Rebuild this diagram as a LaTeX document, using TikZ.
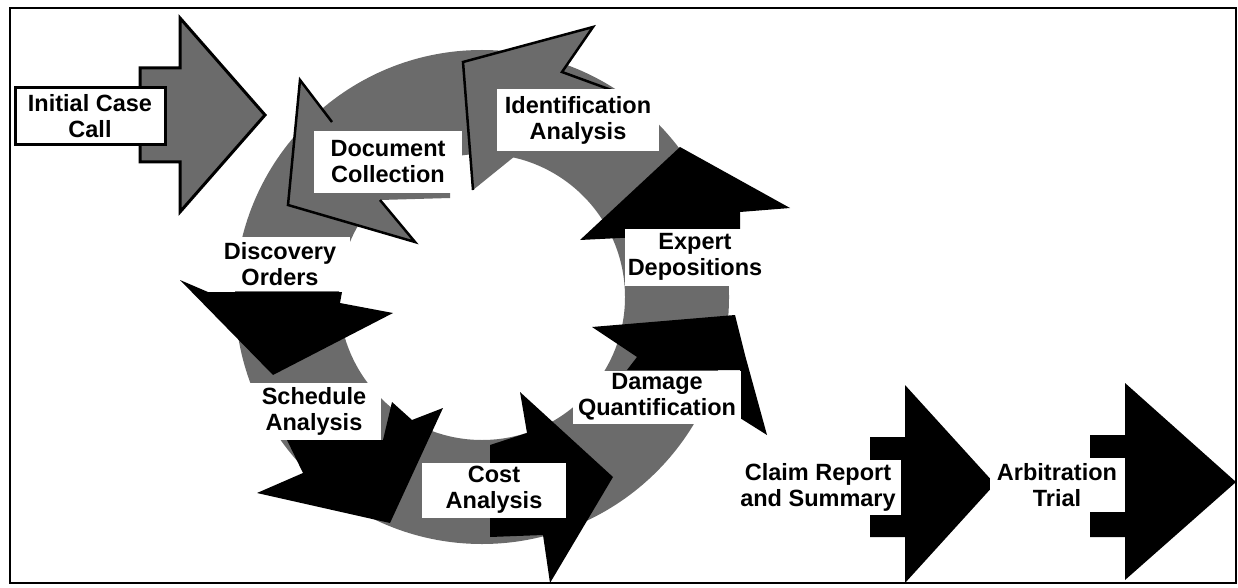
\documentclass[tikz,border=0pt]{standalone}
\usepackage{fontspec}
\setmainfont{Liberation Sans}
\definecolor{stipple}{gray}{0.42}
\tikzset{
  lbl/.style={fill=white, font=\bfseries\fontsize{23.5}{26}\selectfont, align=center, inner sep=0pt},
  greyhead/.style={fill=stipple},
  rim/.style={draw=black, line width=2.5pt, line join=miter},
}
\begin{document}
\begin{tikzpicture}[x=1pt,y=-1pt]
\useasboundingbox (0,0) rectangle (1238,588);
\draw[line width=2pt] (10,8) rectangle (1236,583);
% the ring
\fill[stipple, even odd rule] (482,297) circle[radius=247pt] (482,297) circle[radius=143pt];
% start arrow
\draw[greyhead, rim, line width=3pt] (140,68) -- (180,68) -- (180,18) -- (265,115) -- (180,212) -- (180,162) -- (140,162) -- cycle;
% grey heads on the ring
\fill[greyhead] (300,80) -- (332,122) -- (450,122) -- (450,198) -- (380,200) -- (415,242) -- (288,205) -- cycle;
\draw[rim] (332,122) -- (300,80) -- (288,205) -- (415,242) -- (380,200);
\fill[greyhead] (463,62) -- (593,27) -- (562,72) -- (625,95) -- (625,150) -- (540,158) -- (520,152) -- (473,190) -- cycle;
\draw[rim] (625,95) -- (562,72) -- (593,27) -- (463,62) -- (473,190);
% black heads on the ring
\fill (680,147) -- (790,208) -- (740,212) -- (740,232) -- (580,240) -- cycle;
\fill (592,327) -- (735,315) -- (745,355) -- (767,435) -- (740,418) -- (740,370) -- (627,370) -- (637,357) -- cycle;
\fill (490,445) -- (527,433) -- (520,392) -- (613,477) -- (550,583) -- (543,535) -- (490,537) -- cycle;
\fill (287,440) -- (303,473) -- (257,493) -- (390,523) -- (443,408) -- (412,420) -- (392,402) -- (383,440) -- cycle;
\fill (180,280) -- (208,292) -- (342,292) -- (340,303) -- (393,313) -- (273,375) -- cycle;
% last two arrows
\fill (870,437) -- (905,437) -- (905,385) -- (995,484) -- (905,583) -- (905,537) -- (870,537) -- cycle;
\fill (1090,435) -- (1125,435) -- (1125,383) -- (1236,482) -- (1125,580) -- (1125,537) -- (1090,537) -- cycle;
% labels
\node[lbl, draw=black, line width=3pt, minimum width=150pt, minimum height=57pt] (init) at (90,116) {Initial Case\\Call};
\node[lbl, minimum width=148pt, minimum height=62pt] (doc) at (388,162) {Document\\Collection};
\node[lbl, minimum width=162pt, minimum height=62pt] (ident) at (578,120) {Identification\\Analysis};
\node[lbl, minimum width=140pt, minimum height=57pt] (expert) at (695,257) {Expert\\Depositions};
\node[lbl, minimum width=168pt, minimum height=53pt] (damage) at (657,397) {Damage\\Quantification};
\node[lbl, minimum width=144pt, minimum height=55pt] (cost) at (494,490) {Cost\\Analysis};
\node[lbl, minimum width=133pt, minimum height=57pt] (sched) at (314,411) {Schedule\\Analysis};
\node[lbl, minimum width=140pt, minimum height=54pt] (disc) at (280,264) {Discovery\\Orders};
\node[lbl, minimum width=165pt, minimum height=55pt] (claim) at (818,487) {Claim Report\\and Summary};
\node[lbl, minimum width=135pt, minimum height=54pt] (arb) at (1057,485) {Arbitration\\Trial};
\end{tikzpicture}
\end{document}
